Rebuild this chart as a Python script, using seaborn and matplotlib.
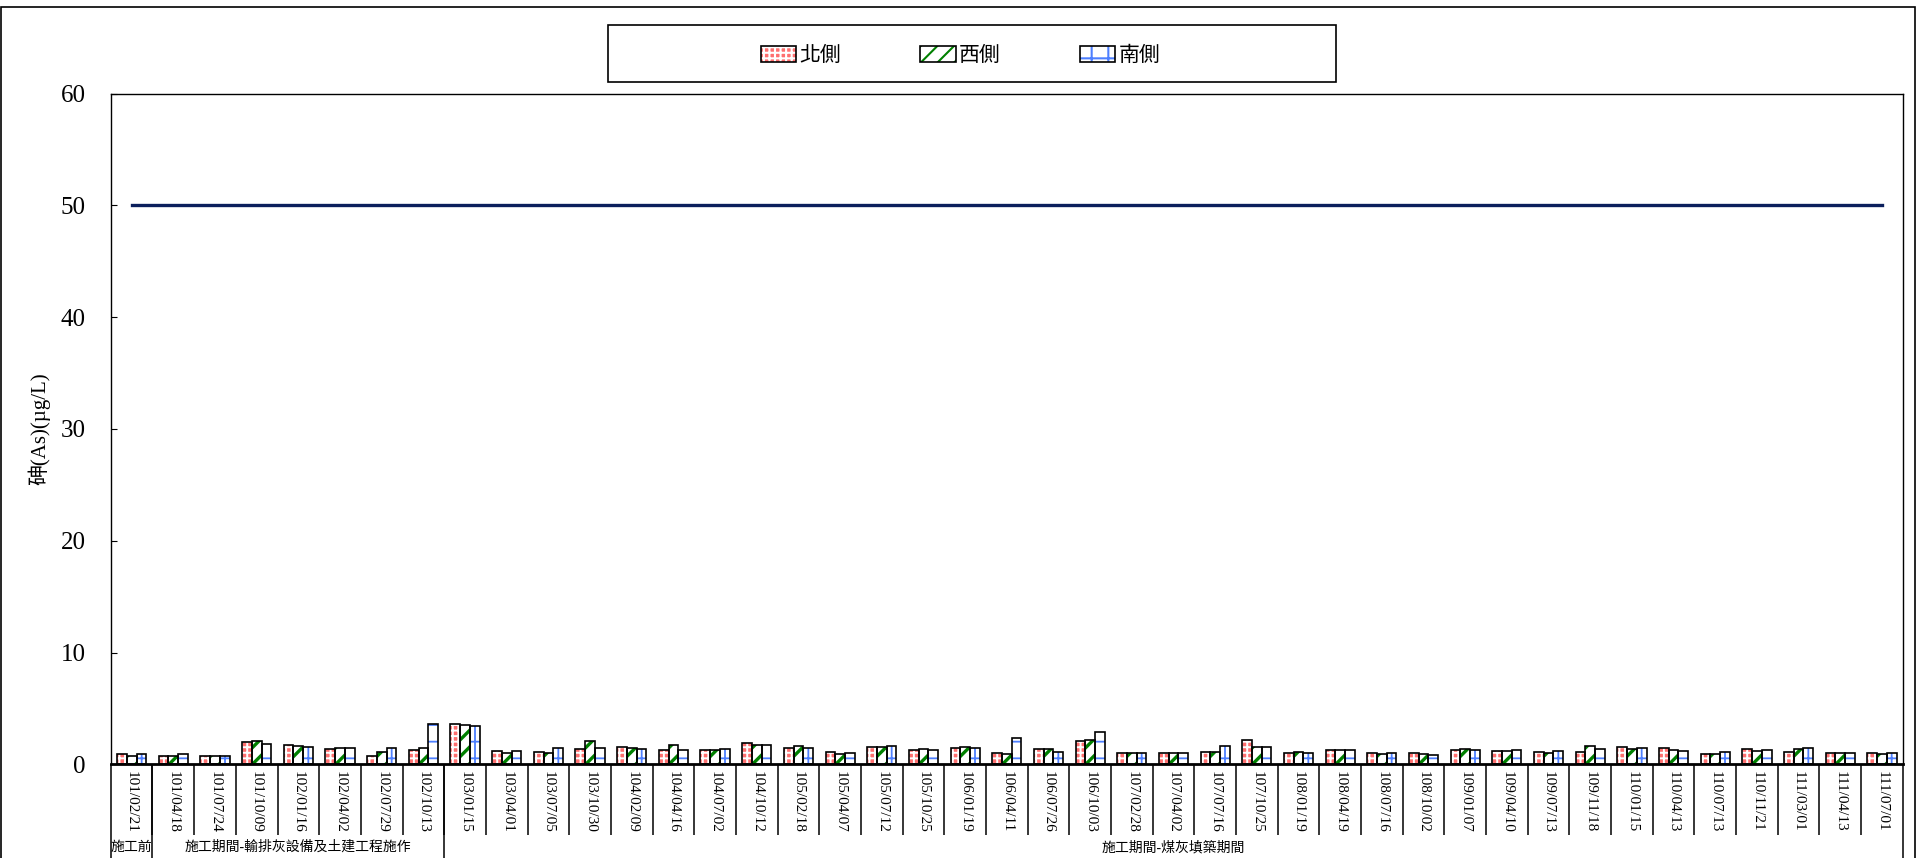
import numpy as np
import pandas as pd
import matplotlib.pyplot as plt
import seaborn as sns
from matplotlib.patches import Rectangle

# Sampling dates (ROC calendar)
dates = ['101/02/21', '101/04/18', '101/07/24', '101/10/09', '102/01/16', '102/04/02', '102/07/29', '102/10/13',
         '103/01/15', '103/04/01', '103/07/05', '103/10/30', '104/02/09', '104/04/16', '104/07/02', '104/10/12',
         '105/02/18', '105/04/07', '105/07/12', '105/10/25', '106/01/19', '106/04/11', '106/07/26', '106/10/03',
         '107/02/28', '107/04/02', '107/07/16', '107/10/25', '108/01/19', '108/04/19', '108/07/16', '108/10/02',
         '109/01/07', '109/04/10', '109/07/13', '109/11/18', '110/01/15', '110/04/13', '110/07/13', '110/11/21',
         '111/03/01', '111/04/13', '111/07/01']

# Arsenic values per side (ug/L)
north = [0.90, 0.75, 0.75, 1.96, 1.76, 1.40, 0.75, 1.28,
         3.63, 1.16, 1.07, 1.37, 1.55, 1.28, 1.28, 1.93,
         1.43, 1.13, 1.55, 1.28, 1.46, 1.04, 1.37, 2.05,
         1.04, 1.04, 1.13, 2.17, 1.04, 1.31, 1.04, 1.04,
         1.31, 1.16, 1.07, 1.07, 1.55, 1.46, 0.95, 1.37,
         1.13, 1.04, 1.04]
west = [0.70, 0.75, 0.75, 2.08, 1.64, 1.46, 1.07, 1.46,
        3.54, 1.04, 1.04, 2.05, 1.46, 1.76, 1.28, 1.73,
        1.64, 0.90, 1.55, 1.37, 1.52, 0.92, 1.34, 2.20,
        1.04, 1.04, 1.13, 1.52, 1.13, 1.31, 0.90, 0.95,
        1.37, 1.16, 1.04, 1.64, 1.37, 1.25, 0.95, 1.16,
        1.37, 1.04, 0.90]
south = [0.90, 0.90, 0.75, 1.85, 1.55, 1.43, 1.43, 3.63,
         3.45, 1.16, 1.46, 1.46, 1.37, 1.28, 1.34, 1.73,
         1.46, 1.04, 1.64, 1.28, 1.43, 2.35, 1.13, 2.86,
         1.04, 1.04, 1.64, 1.52, 1.04, 1.31, 1.04, 0.86,
         1.31, 1.31, 1.16, 1.37, 1.46, 1.16, 1.07, 1.28,
         1.46, 1.04, 1.04]

sides = ['北側', '西側', '南側']
groups = ['施工前', '施工期間-輸排灰設備及土建工程施作', '施工期間-煤灰填築期間']
group_sizes = [1, 7, 35]
limit_value = 50

df = pd.DataFrame({'date': dates * 3,
                   'side': np.repeat(sides, len(dates)),
                   'value': north + west + south})

plt.rcParams['font.family'] = ['Liberation Serif', 'Noto Sans CJK TC']
plt.rcParams['hatch.linewidth'] = 1.5

fig = plt.figure(figsize=(19.17, 8.58), dpi=100)
ax = fig.add_axes([0.0578, 0.1092, 0.9348, 0.7818])

sns.barplot(data=df, x='date', y='value', hue='side', order=dates, hue_order=sides,
            palette=['white'] * 3, width=0.7, gap=0, edgecolor='black', linewidth=1.2,
            errorbar=None, legend=False, ax=ax)

# hatch fills: (face, hatch colour, hatch, hatch lw)
styles = [('#ff6f6f', 'white', '+++', 1.4),
          ('white', '#008000', '//', 2.4),
          ('white', '#4d7fff', '+', 1.3)]
handles = []
for cont, (face, hcol, hatch, hlw) in zip(ax.containers, styles):
    for bar in cont:
        r = Rectangle(bar.get_xy(), bar.get_width(), bar.get_height(), facecolor=face,
                      edgecolor=hcol, hatch=hatch, lw=0, zorder=2)
        if hasattr(r, 'set_hatch_linewidth'):
            r.set_hatch_linewidth(hlw)
        ax.add_patch(r)
        bar.set_facecolor('none')
        bar.set_zorder(3)
    h = Rectangle((0, 0), 1, 1, facecolor=face, edgecolor=hcol, hatch=hatch, lw=0)
    if hasattr(h, 'set_hatch_linewidth'):
        h.set_hatch_linewidth(hlw)
    handles.append((h, Rectangle((0, 0), 1, 1, facecolor='none', edgecolor='black', lw=1.2)))

# standard line
sns.lineplot(x=np.arange(len(dates)), y=[limit_value] * len(dates), color='#0b1f5c',
             lw=2.4, ax=ax, zorder=4)

ax.set_xlim(-0.5, len(dates) - 0.5)
ax.set_ylim(0, 60)
ax.set_yticks(range(0, 61, 10))
ax.tick_params(axis='y', direction='in', length=4, pad=18, labelsize=18)
ax.set_xlabel('')
ax.set_ylabel('砷(As)(µg/L)', fontsize=15)
ax.yaxis.set_label_coords(-0.034, 0.5)

ax.set_xticks(range(len(dates)))
ax.set_xticklabels(dates, rotation=270, fontsize=11)
ax.tick_params(axis='x', which='major', length=0, pad=5)
ax.set_xticks(np.arange(0.5, len(dates) - 1, 1), minor=True)
ax.tick_params(axis='x', which='minor', direction='out', length=51, width=1.1)

for s in ax.spines.values():
    s.set_linewidth(1.0)
ax.spines['bottom'].set_linewidth(2.0)

# group labels and long separators
bounds = np.cumsum([0] + group_sizes) - 0.5
centers = [(bounds[i] + bounds[i + 1]) / 2 for i in range(len(groups))]
sec = ax.secondary_xaxis('bottom')
sec.set_xticks(bounds)
sec.set_xticklabels([])
sec.tick_params(which='major', direction='out', length=75, width=1.1)
sec.set_xticks(centers, labels=groups, minor=True)
sec.tick_params(which='minor', length=0, pad=55, labelsize=10)

# legend with its own wide frame
fig.legend(handles, sides, loc='center', bbox_to_anchor=(0.501, 0.9347), ncol=3, frameon=False,
           fontsize=15, handlelength=1.7, handleheight=0.8, columnspacing=3.8, handletextpad=0.15)
fig.patches.append(Rectangle((0.317, 0.9044), 0.3801, 0.067, transform=fig.transFigure,
                             fill=False, edgecolor='black', lw=1.2))
# outer border
fig.patches.append(Rectangle((0.0006, -0.05), 0.9985, 1.0418, transform=fig.transFigure,
                             fill=False, edgecolor='black', lw=1.2))

fig.savefig('out.png', dpi=100)
